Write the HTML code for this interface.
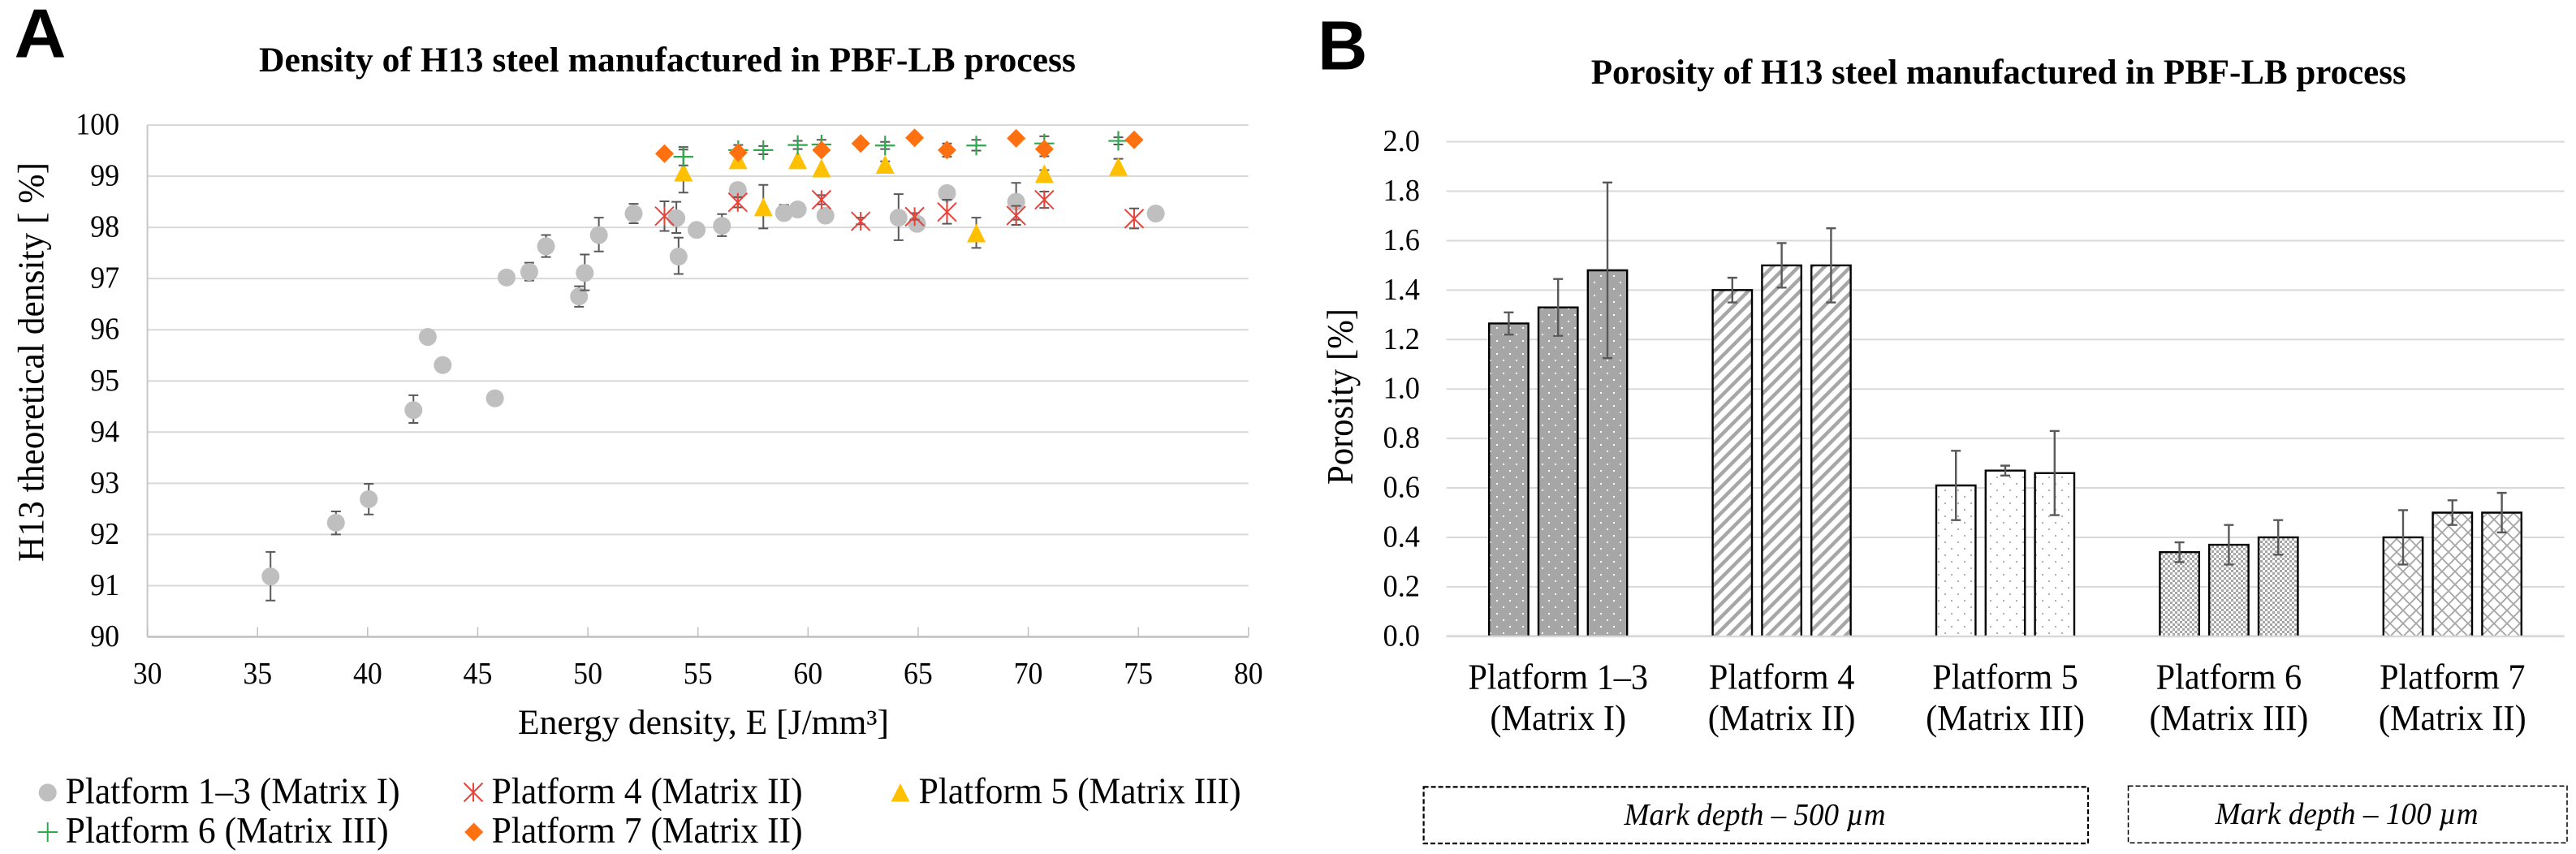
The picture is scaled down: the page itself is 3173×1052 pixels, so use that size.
<!DOCTYPE html>
<html lang="en">
<head>
<meta charset="utf-8">
<title>H13 steel density and porosity</title>
<style>
html,body{margin:0;padding:0;background:#fff;}
svg{display:block;}
text{font-family:"Liberation Serif",serif;fill:#000;}
.sans{font-family:"Liberation Sans",sans-serif;font-weight:700;}
</style>
</head>
<body>
<svg id="figure" xmlns="http://www.w3.org/2000/svg" width="3173" height="1052" viewBox="0 0 3173 1052">
<defs>
<pattern id="pat-dots-dark" patternUnits="userSpaceOnUse" width="16" height="16">
<rect width="16" height="16" fill="#a6a6a6"/><rect x="3" y="3" width="2" height="2" fill="#fff"/><rect x="11" y="11" width="2" height="2" fill="#fff"/>
</pattern>
<pattern id="pat-stripes" patternUnits="userSpaceOnUse" width="16" height="16">
<rect width="16" height="16" fill="#fff"/><path d="M-4 4L4 -4M0 16L16 0M12 20L20 12" stroke="#a6a6a6" stroke-width="4.4"/>
</pattern>
<pattern id="pat-dots-light" patternUnits="userSpaceOnUse" width="16" height="16">
<rect width="16" height="16" fill="#fff"/><rect x="3" y="3" width="2" height="2" fill="#b0b0b0"/><rect x="11" y="11" width="2" height="2" fill="#b0b0b0"/>
</pattern>
<pattern id="pat-check" patternUnits="userSpaceOnUse" width="6" height="6">
<rect width="6" height="6" fill="#fff"/><rect width="3" height="3" fill="#a6a6a6"/><rect x="3" y="3" width="3" height="3" fill="#a6a6a6"/>
</pattern>
<pattern id="pat-lattice" patternUnits="userSpaceOnUse" width="16" height="16">
<rect width="16" height="16" fill="#fff"/><path d="M0 0L16 16M16 0L0 16" stroke="#a6a6a6" stroke-width="1.8"/>
</pattern>
</defs>

<g id="chart-a">
<text class="sans" x="17.5" y="70.7" font-size="85" textLength="64" lengthAdjust="spacingAndGlyphs" style="font-family:'Liberation Sans',sans-serif">A</text>
<text x="319" y="88" font-size="43" font-weight="700" textLength="1006" lengthAdjust="spacingAndGlyphs">Density of H13 steel manufactured in PBF-LB process</text>
<text x="53.5" y="692" font-size="45" transform="rotate(-90 53.5 692)" textLength="492" lengthAdjust="spacingAndGlyphs">H13 theoretical density [ %]</text>
<text x="638" y="904" font-size="43" textLength="457" lengthAdjust="spacingAndGlyphs">Energy density, E [J/mm³]</text>
<g id="a-grid"></g>
<g id="a-marks"></g>
<g id="a-legend">
<g>
<circle cx="58.7" cy="976.4" r="11" fill="#bfbfbf"/>
<text x="80.6" y="989.4" font-size="45" textLength="412" lengthAdjust="spacingAndGlyphs">Platform 1–3 (Matrix I)</text>
</g>
<g>
<path d="M571.5 964.5L594.5 987.5M594.5 964.5L571.5 987.5M583 964.5V987.5" stroke="#e8433a" stroke-width="2" fill="none"/>
<text x="605.6" y="989.4" font-size="45" textLength="383" lengthAdjust="spacingAndGlyphs">Platform 4 (Matrix II)</text>
</g>
<g>
<path d="M1109 965L1120.5 987.5H1097.5Z" fill="#ffc000"/>
<text x="1131.6" y="989.4" font-size="45" textLength="397" lengthAdjust="spacingAndGlyphs">Platform 5 (Matrix III)</text>
</g>
<g>
<path d="M46.5 1025H71M58.7 1013V1037" stroke="#2fa84f" stroke-width="2" fill="none"/>
<text x="80.6" y="1038" font-size="45" textLength="398" lengthAdjust="spacingAndGlyphs">Platform 6 (Matrix III)</text>
</g>
<g>
<path d="M583.7 1013.5L595.2 1025L583.7 1036.5L572.2 1025Z" fill="#ff7010"/>
<text x="605.6" y="1038" font-size="45" textLength="383" lengthAdjust="spacingAndGlyphs">Platform 7 (Matrix II)</text>
</g>
</g>
</g>

<g id="chart-b">
<text class="sans" x="1623" y="85.7" font-size="85" style="font-family:'Liberation Sans',sans-serif">B</text>
<text x="1959.7" y="103" font-size="43" font-weight="700" textLength="1004" lengthAdjust="spacingAndGlyphs">Porosity of H13 steel manufactured in PBF-LB process</text>
<text x="1666" y="597" font-size="45" transform="rotate(-90 1666 597)" textLength="217" lengthAdjust="spacingAndGlyphs">Porosity [%]</text>
<g id="b-grid"></g>
<g id="b-marks"></g>
<g>
<rect x="1753.6" y="969.4" width="818.4" height="69.6" fill="none" stroke="#000" stroke-width="2.2" stroke-dasharray="6 3"/>
<text x="2000.5" y="1016" font-size="38" font-style="italic" textLength="322" lengthAdjust="spacingAndGlyphs">Mark depth – 500 µm</text>
</g>
<g>
<rect x="2621.5" y="968.3" width="540.5" height="70" fill="none" stroke="#000" stroke-width="1.5" stroke-dasharray="6 3"/>
<text x="2728.6" y="1015" font-size="38" font-style="italic" textLength="324" lengthAdjust="spacingAndGlyphs">Mark depth – 100 µm</text>
</g>
</g>
</svg>

<script>
// ---- Panel A data ----
const densityXTicks = [30, 35, 40, 45, 50, 55, 60, 65, 70, 75, 80];
const densityYTicks = [90, 91, 92, 93, 94, 95, 96, 97, 98, 99, 100];

const platform13Energy = [35.59, 38.56, 40.05, 42.08, 42.73, 43.41, 45.78, 46.31, 47.34, 48.10, 49.60, 49.86, 50.50, 52.08, 54.02, 54.12, 54.94, 56.09, 56.81, 58.91, 59.53, 60.79, 64.11, 64.95, 66.31, 69.45, 75.79];
const platform13Density = [91.18, 92.23, 92.69, 94.43, 95.86, 95.31, 94.66, 97.02, 97.13, 97.63, 96.65, 97.11, 97.85, 98.27, 98.18, 97.43, 97.95, 98.03, 98.73, 98.28, 98.35, 98.23, 98.19, 98.07, 98.67, 98.50, 98.27];
const platform13Plus = [0.48, 0.22, 0.30, 0.29, 0, 0, 0, 0, 0.18, 0.22, 0.20, 0.36, 0.34, 0.19, 0.32, 0.37, 0, 0.23, 0, 0.16, 0, 0, 0.46, 0, 0, 0.37, 0];
const platform13Minus = [0.47, 0.23, 0.30, 0.25, 0, 0, 0, 0, 0.17, 0.21, 0.20, 0.34, 0.32, 0.19, 0.29, 0.34, 0, 0.20, 0, 0.10, 0, 0, 0.44, 0, 0, 0.35, 0];

const platform4Energy = [53.48, 56.81, 60.61, 62.39, 64.84, 66.31, 69.45, 70.73, 74.81];
const platform4Density = [98.22, 98.49, 98.54, 98.12, 98.21, 98.30, 98.23, 98.54, 98.17];
const platform4Plus = [0.29, 0.10, 0.09, 0.07, 0.07, 0.24, 0.19, 0.16, 0.20];
const platform4Minus = [0.29, 0.10, 0.09, 0.06, 0.06, 0.23, 0.18, 0.16, 0.19];

const platform5Energy = [54.34, 56.82, 57.97, 59.53, 60.61, 63.50, 67.64, 70.73, 74.09];
const platform5Density = [99.08, 99.32, 98.40, 99.32, 99.16, 99.23, 97.89, 99.05, 99.19];
const platform5Plus = [0.49, 0, 0.43, 0, 0, 0.06, 0.30, 0.07, 0.15];
const platform5Minus = [0.40, 0, 0.42, 0, 0, 0.06, 0.29, 0.07, 0.15];

const platform6Energy = [54.34, 56.83, 57.97, 59.53, 60.61, 63.50, 67.64, 70.73, 74.09];
const platform6Density = [99.38, 99.51, 99.51, 99.61, 99.62, 99.60, 99.60, 99.64, 99.69];
const platform6Plus = [0.14, 0.10, 0.08, 0.08, 0.09, 0.07, 0.11, 0.14, 0.07];
const platform6Minus = [0.17, 0.08, 0.08, 0.08, 0.09, 0.07, 0.10, 0.14, 0.07];

const platform7Energy = [53.48, 56.83, 60.61, 62.39, 64.84, 66.31, 69.45, 70.73, 74.81];
const platform7Density = [99.44, 99.46, 99.51, 99.64, 99.75, 99.51, 99.74, 99.53, 99.71];
const platform7Plus = [0, 0, 0, 0, 0.05, 0.13, 0, 0.05, 0];
const platform7Minus = [0, 0, 0, 0, 0.05, 0.13, 0, 0.14, 0];

// ---- Panel B data ----
const porosityTicks = [0, 0.2, 0.4, 0.6, 0.8, 1.0, 1.2, 1.4, 1.6, 1.8, 2.0];
const platformNames = ['Platform 1–3', 'Platform 4', 'Platform 5', 'Platform 6', 'Platform 7'];
const matrixNames = ['(Matrix I)', '(Matrix II)', '(Matrix III)', '(Matrix III)', '(Matrix II)'];
const porosityFirst = [1.265, 1.40, 0.61, 0.34, 0.40];
const porositySecond = [1.33, 1.50, 0.67, 0.37, 0.50];
const porosityThird = [1.48, 1.50, 0.66, 0.40, 0.50];
const errorFirst = [0.045, 0.05, 0.14, 0.04, 0.11];
const errorSecond = [0.115, 0.09, 0.02, 0.08, 0.05];
const errorThird = [0.355, 0.15, 0.17, 0.07, 0.08];

const SVG_NS = 'http://www.w3.org/2000/svg';

function addEl(parent, tag, attrs, content) {
  const el = document.createElementNS(SVG_NS, tag);
  for (const k in attrs) el.setAttribute(k, attrs[k]);
  if (content !== undefined) el.textContent = content;
  parent.appendChild(el);
  return el;
}

// Condense a label horizontally so it keeps the tall, narrow look of the source.
function condense(el, factor) {
  el.setAttribute('textLength', el.getComputedTextLength() * factor);
  el.setAttribute('lengthAdjust', 'spacingAndGlyphs');
}

// ---- Axis functions ----
function xA(v) { return 181.6 + (v - 30) * 27.124; }
function yA(v) { return 784.5 - (v - 90) * 63.05; }
function yB(v) { return 783.8 - v * 304.6; }
function xB(cat, barIndex) { return 1919.2 + cat * 275.4 + (barIndex - 1) * 60.8; }

// ---- Panel A axes ----
const aGrid = document.getElementById('a-grid');
densityYTicks.forEach(function (t) {
  if (t !== 90) {
    const line = addEl(aGrid, 'line', { x1: xA(30), x2: xA(80), y1: yA(t), y2: yA(t), stroke: '#d9d9d9', 'stroke-width': 2 });
    
    
  }
  const label = addEl(aGrid, 'text', { x: 147, y: yA(t) + 11.5, 'text-anchor': 'end', 'font-size': 38.5 }, String(t));
  condense(label, 0.93);
  
  
});
const aLeftAxis = addEl(aGrid, 'line', { x1: xA(30), x2: xA(30), y1: yA(100), y2: yA(90), stroke: '#c8c8c8', 'stroke-width': 2 });


const aBottomAxis = addEl(aGrid, 'line', { x1: xA(30), x2: xA(80), y1: yA(90), y2: yA(90), stroke: '#bfbfbf', 'stroke-width': 2.5 });


densityXTicks.forEach(function (t) {
  const tick = addEl(aGrid, 'line', { x1: xA(t), x2: xA(t), y1: yA(90) - 12, y2: yA(90), stroke: '#bfbfbf', 'stroke-width': 1.5 });
  
  
  const label = addEl(aGrid, 'text', { x: xA(t), y: 842, 'text-anchor': 'middle', 'font-size': 38.5 }, String(t));
  condense(label, 0.93);
  
  
});

// ---- Panel A marks ----
function errorPath(px, top, bottom) {
  return 'M' + (px - 6) + ' ' + top + 'H' + (px + 6) + 'M' + px + ' ' + top + 'V' + bottom + 'M' + (px - 6) + ' ' + bottom + 'H' + (px + 6);
}

function drawSeries(seriesName, energy, density, plus, minus, drawMarker) {
  const group = addEl(document.getElementById('a-marks'), 'g', {});
  
  
  energy.forEach(function (e, i) {
    const px = xA(e);
    const py = yA(density[i]);
    if (plus[i] > 0 || minus[i] > 0) {
      const err = addEl(group, 'path', { d: errorPath(px, yA(density[i] + plus[i]), yA(density[i] - minus[i])), stroke: '#595959', 'stroke-width': 2, fill: 'none' });
      
      
    }
    const marker = drawMarker(group, px, py);
    
    
  });
}

function circleMarker(g, x, y) { return addEl(g, 'circle', { cx: x, cy: y, r: 11, fill: '#bfbfbf' }); }
function starMarker(g, x, y) {
  return addEl(g, 'path', { d: 'M' + (x - 11.5) + ' ' + (y - 11.5) + 'L' + (x + 11.5) + ' ' + (y + 11.5) + 'M' + (x + 11.5) + ' ' + (y - 11.5) + 'L' + (x - 11.5) + ' ' + (y + 11.5) + 'M' + x + ' ' + (y - 11.5) + 'V' + (y + 11.5), stroke: '#e8433a', 'stroke-width': 2, fill: 'none' });
}
function triangleMarker(g, x, y) {
  return addEl(g, 'path', { d: 'M' + x + ' ' + (y - 11.5) + 'L' + (x + 11.5) + ' ' + (y + 11.5) + 'H' + (x - 11.5) + 'Z', fill: '#ffc000' });
}
function plusMarker(g, x, y) {
  return addEl(g, 'path', { d: 'M' + (x - 12.2) + ' ' + y + 'H' + (x + 12.2) + 'M' + x + ' ' + (y - 12) + 'V' + (y + 12), stroke: '#2fa84f', 'stroke-width': 2.2, fill: 'none' });
}
function diamondMarker(g, x, y) {
  return addEl(g, 'path', { d: 'M' + x + ' ' + (y - 11.5) + 'L' + (x + 11.5) + ' ' + y + 'L' + x + ' ' + (y + 11.5) + 'L' + (x - 11.5) + ' ' + y + 'Z', fill: '#ff7010' });
}

drawSeries('platform-1-3', platform13Energy, platform13Density, platform13Plus, platform13Minus, circleMarker);
drawSeries('platform-4', platform4Energy, platform4Density, platform4Plus, platform4Minus, starMarker);
drawSeries('platform-5', platform5Energy, platform5Density, platform5Plus, platform5Minus, triangleMarker);
drawSeries('platform-6', platform6Energy, platform6Density, platform6Plus, platform6Minus, plusMarker);
drawSeries('platform-7', platform7Energy, platform7Density, platform7Plus, platform7Minus, diamondMarker);

// ---- Panel B axes ----
const bGrid = document.getElementById('b-grid');
porosityTicks.forEach(function (t) {
  const line = addEl(bGrid, 'line', { x1: 1781.6, x2: 3158.7, y1: yB(t), y2: yB(t), stroke: '#d9d9d9', 'stroke-width': t === 0 ? 3 : 2 });
  
  
  const label = addEl(bGrid, 'text', { x: 1749, y: yB(t) + 11.5, 'text-anchor': 'end', 'font-size': 38.5 }, t.toFixed(1));
  condense(label, 0.945);
  
  
});

// ---- Panel B bars ----
const bMarks = document.getElementById('b-marks');
const barFills = ['url(#pat-dots-dark)', 'url(#pat-stripes)', 'url(#pat-dots-light)', 'url(#pat-check)', 'url(#pat-lattice)'];
const barSeries = [porosityFirst, porositySecond, porosityThird];
const errorSeries = [errorFirst, errorSecond, errorThird];
platformNames.forEach(function (name, c) {
  const group = addEl(bMarks, 'g', {});
  
  
  barSeries.forEach(function (series, b) {
    const cx = xB(c, b);
    const halfW = 24.2;
    const top = yB(series[c]);
    const base = yB(0) - 1;
    const bar = addEl(group, 'path', { d: 'M' + (cx - halfW) + ' ' + base + 'V' + top + 'H' + (cx + halfW) + 'V' + base, fill: barFills[c], stroke: '#000', 'stroke-width': 2.4 });
    
    
  });
  barSeries.forEach(function (series, b) {
    const cx = xB(c, b);
    const err = addEl(group, 'path', { d: errorPath(cx, yB(series[c] + errorSeries[b][c]), yB(series[c] - errorSeries[b][c])), stroke: '#595959', 'stroke-width': 2.4, fill: 'none' });
    
    
  });
  const lineOne = addEl(group, 'text', { x: xB(c, 1), y: 848.6, 'text-anchor': 'middle', 'font-size': 44 }, name);
  condense(lineOne, 0.96);
  
  
  const lineTwo = addEl(group, 'text', { x: xB(c, 1), y: 899, 'text-anchor': 'middle', 'font-size': 44 }, matrixNames[c]);
  condense(lineTwo, 0.96);
  
  
});
</script>
</body>
</html>
